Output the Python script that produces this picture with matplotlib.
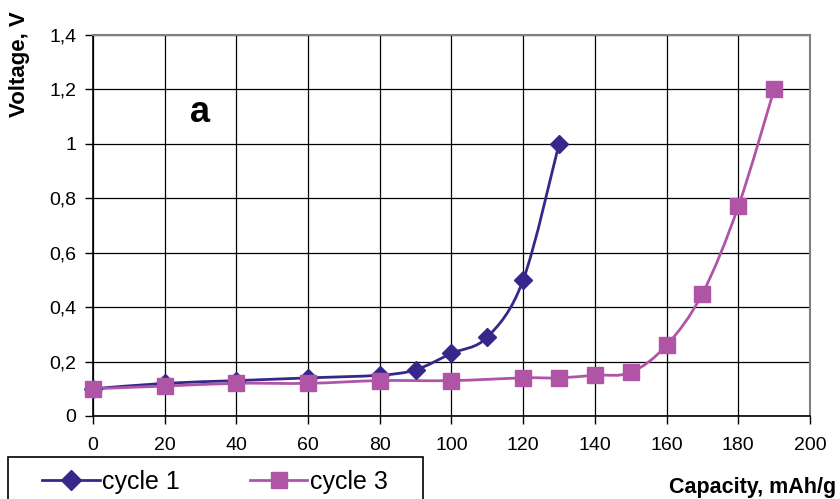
import matplotlib
matplotlib.use("Agg")
import matplotlib.pyplot as plt
from matplotlib.path import Path
from matplotlib.patches import PathPatch, Rectangle
from matplotlib.lines import Line2D
import numpy as np

plt.rcParams['font.family'] = ['Liberation Sans', 'DejaVu Sans']

cap1 = [0, 20, 40, 60, 80, 90, 100, 110, 120, 130]
volt1 = [0.10, 0.12, 0.13, 0.14, 0.15, 0.17, 0.23, 0.29, 0.50, 1.00]
cap3 = [0, 20, 40, 60, 80, 100, 120, 130, 140, 150, 160, 170, 180, 190]
volt3 = [0.10, 0.11, 0.12, 0.12, 0.13, 0.13, 0.14, 0.14, 0.15, 0.16, 0.26, 0.45, 0.77, 1.20]
xticks = [0, 20, 40, 60, 80, 100, 120, 140, 160, 180, 200]
yticks = [0, 0.2, 0.4, 0.6, 0.8, 1.0, 1.2, 1.4]
ytick_labels = ["0", "0,2", "0,4", "0,6", "0,8", "1", "1,2", "1,4"]
labels = ["cycle 1", "cycle 3"]

c1 = '#35288a'
c3 = '#b055a6'

fig = plt.figure(figsize=(8.4, 4.99), dpi=100)
W, H = 840, 499
ax = fig.add_axes([93 / W, 1 - 416 / H, (810 - 93) / W, (416 - 35) / H])
ax.set_xlim(0, 200)
ax.set_ylim(0, 1.4)


def smooth_path(xs, ys):
    """Excel-style smoothed line: cubic Bezier segments through the data points."""
    p = np.column_stack([xs, ys]).astype(float)
    n = len(p)
    verts = [p[0]]
    codes = [Path.MOVETO]
    for i in range(n - 1):
        p0 = p[i - 1] if i > 0 else p[i]
        p1 = p[i]
        p2 = p[i + 1]
        p3 = p[i + 2] if i + 2 < n else p[i + 1]
        verts += [p1 + (p2 - p0) / 6, p2 - (p3 - p1) / 6, p2]
        codes += [Path.CURVE4] * 3
    return Path(verts, codes)


ax.add_patch(PathPatch(smooth_path(cap1, volt1), fill=False, edgecolor=c1, lw=2, zorder=3))
ax.add_patch(PathPatch(smooth_path(cap3, volt3), fill=False, edgecolor=c3, lw=2, zorder=3))
ax.plot(cap1, volt1, ls='none', marker='D', ms=9, color=c1, zorder=4, clip_on=False)
ax.plot(cap3, volt3, ls='none', marker='s', ms=11, color=c3, zorder=4, clip_on=False)

ax.set_xticks(xticks)
ax.set_yticks(yticks)
ax.set_yticklabels(ytick_labels)
ax.grid(True, color='black', lw=0.9)
ax.set_axisbelow(True)
for s in ['top', 'right']:
    ax.spines[s].set_color('#808080')
    ax.spines[s].set_linewidth(1.5)
for s in ['left', 'bottom']:
    ax.spines[s].set_color('black')
    ax.spines[s].set_linewidth(1.2)
ax.tick_params(axis='both', direction='out', length=6, width=1, labelsize=14)
ax.tick_params(axis='x', pad=9)
ax.tick_params(axis='y', pad=6)

ax.text(200 * (200 - 93) / (810 - 93), 1.4 * (416 - 113) / (416 - 35), 'a',
        fontsize=26, fontweight='bold', ha='center', va='center')

fig.text(20 / W, 1 - 64 / H, 'Voltage, V', rotation=90, fontsize=16,
         fontweight='bold', ha='center', va='center')
fig.text(836 / W, 1 - 487 / H, 'Capacity, mAh/g', fontsize=15.5,
         fontweight='bold', ha='right', va='center')

# legend box (partly cut by the figure edge)
fig.patches.append(Rectangle((8 / W, -0.05), (423 - 8) / W, 0.05 + (499 - 457) / H,
                             transform=fig.transFigure, fill=False,
                             edgecolor='black', lw=1.2))
h1 = Line2D([], [], color=c1, lw=2, marker='D', ms=10)
h3 = Line2D([], [], color=c3, lw=2, marker='s', ms=12)
fig.legend([h1, h3], labels, loc='center left',
           bbox_to_anchor=(42 / W, 1 - 482 / H), ncol=2, frameon=False,
           fontsize=18, handlelength=2.3, handletextpad=0.1,
           columnspacing=2.8, borderpad=0, borderaxespad=0)

fig.savefig('out.png', dpi=100)
